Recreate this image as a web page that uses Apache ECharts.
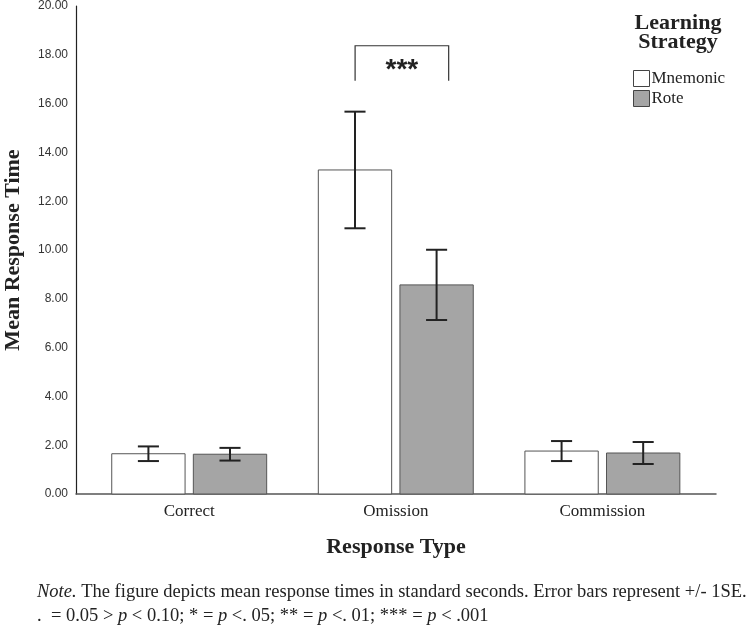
<!DOCTYPE html>
<html>
<head>
<meta charset="utf-8">
<script src="https://cdn.jsdelivr.net/npm/echarts@6/dist/echarts.min.js"></script>
<style>html,body{margin:0;padding:0;background:#fff}#c{width:750px;height:628px}</style>
</head>
<body>
<div id="c"></div>
<script>
const categories = ['Correct', 'Omission', 'Commission'];
const mnemonic = [1.65, 13.28, 1.76];
const mnemonicSE = [0.30, 2.39, 0.41];
const rote = [1.63, 8.57, 1.68];
const roteSE = [0.26, 1.44, 0.45];
const yTicks = [0, 2, 4, 6, 8, 10, 12, 14, 16, 18, 20];
const bracketX = [0.803, 1.256];
const bracketY = [16.94, 18.37];
const sigLabel = '***';
const sigY = 17.5;

const serif = 'Liberation Serif, Times New Roman, serif';
const sans = 'Liberation Sans, Arial, sans-serif';

function barRender(sign, fill) {
  return function (params, api) {
    const i = api.value(0), v = api.value(1), se = api.value(2);
    const unit = api.size([1, 0])[0];
    const cx = api.coord([i, 0])[0] + sign * 0.1975 * unit;
    const bw = 0.355 * unit;
    const base = api.coord([i, 0])[1];
    const top = api.coord([i, v])[1];
    const eTop = api.coord([i, v + se])[1];
    const eBot = api.coord([i, v - se])[1];
    const cap = 0.051 * unit;
    const es = { stroke: '#222', lineWidth: 2 };
    return {
      type: 'group',
      children: [
        { type: 'rect', shape: { x: cx - bw / 2, y: top, width: bw, height: base - top },
          style: { fill: fill, stroke: '#555', lineWidth: 1 } },
        { type: 'line', shape: { x1: cx, y1: eTop, x2: cx, y2: eBot }, style: es },
        { type: 'line', shape: { x1: cx - cap, y1: eTop, x2: cx + cap, y2: eTop }, style: es },
        { type: 'line', shape: { x1: cx - cap, y1: eBot, x2: cx + cap, y2: eBot }, style: es }
      ]
    };
  };
}

const chart = echarts.init(document.getElementById('c'), null, { renderer: 'canvas' });
chart.setOption({
  animation: false,
  backgroundColor: '#fff',
  grid: { left: 76, top: 6, width: 640, height: 488, outerBoundsMode: 'none', containLabel: false },
  title: [
    { text: 'Learning\nStrategy', left: 678, top: 14, textAlign: 'center', padding: 0,
      textStyle: { fontFamily: serif, fontWeight: 'bold', fontSize: 22, lineHeight: 19, color: '#222' } },
    { text: '{i|Note.} The figure depicts mean response times in standard seconds. Error bars represent +/- 1SE.\n.  = 0.05 > {i|p} < 0.10; * = {i|p} <. 05; ** = {i|p} <. 01; *** = {i|p} < .001',
      left: 37, top: 580, padding: 0,
      textStyle: { fontFamily: serif, fontWeight: 'normal', fontSize: 18.5, lineHeight: 24, color: '#222',
        rich: { i: { fontFamily: serif, fontStyle: 'italic', fontSize: 18.5, color: '#222' } } } }
  ],
  legend: {
    orient: 'vertical', left: 633, top: 70, padding: 0, itemWidth: 16, itemHeight: 16, itemGap: 3,
    icon: 'rect',
    textStyle: { fontFamily: serif, fontSize: 17, color: '#222', padding: [0, 0, 0, -3] },
    data: [
      { name: 'Mnemonic', itemStyle: { color: '#fff', borderColor: '#444', borderWidth: 1 } },
      { name: 'Rote', itemStyle: { color: '#a5a5a5', borderColor: '#444', borderWidth: 1 } }
    ]
  },
  xAxis: {
    type: 'value', min: -0.548, max: 2.550,
    name: 'Response Type', nameLocation: 'middle', nameGap: 42,
    nameTextStyle: { fontFamily: serif, fontWeight: 'bold', fontSize: 22, color: '#222' },
    axisLine: { show: true, onZero: false, lineStyle: { color: '#555', width: 1.5 } },
    axisTick: { show: false },
    splitLine: { show: false },
    axisLabel: { customValues: [0, 1, 2], formatter: v => categories[Math.round(v)] || '',
      fontFamily: serif, fontSize: 17, color: '#222', margin: 9 }
  },
  yAxis: {
    type: 'value', min: 0, max: 20, interval: 2,
    name: 'Mean Response Time', nameLocation: 'middle', nameGap: 52,
    nameTextStyle: { fontFamily: serif, fontWeight: 'bold', fontSize: 22, color: '#222', padding: [0, 0, 0, 0] },
    axisLine: { show: true, onZero: false, lineStyle: { color: '#222', width: 1.2 } },
    axisTick: { show: false },
    splitLine: { show: false },
    axisLabel: { formatter: v => yTicks.includes(v) ? v.toFixed(2) : '', fontFamily: sans, fontSize: 12, color: '#333', margin: 8 }
  },
  series: [
    { name: 'Mnemonic', type: 'custom', renderItem: barRender(-1, '#ffffff'),
      itemStyle: { color: '#fff', borderColor: '#444', borderWidth: 1 },
      encode: { x: 0, y: [1] },
      data: categories.map((c, i) => [i, mnemonic[i], mnemonicSE[i]]) },
    { name: 'Rote', type: 'custom', renderItem: barRender(1, '#a5a5a5'),
      itemStyle: { color: '#a5a5a5', borderColor: '#444', borderWidth: 1 },
      encode: { x: 0, y: [1] },
      data: categories.map((c, i) => [i, rote[i], roteSE[i]]) },
    { name: 'sig', type: 'custom',
      renderItem: function (params, api) {
        const a = api.coord([bracketX[0], bracketY[0]]);
        const b = api.coord([bracketX[0], bracketY[1]]);
        const c = api.coord([bracketX[1], bracketY[1]]);
        const d = api.coord([bracketX[1], bracketY[0]]);
        const t = api.coord([(bracketX[0] + bracketX[1]) / 2, sigY]);
        return { type: 'group', children: [
          { type: 'polyline', shape: { points: [a, b, c, d] }, style: { stroke: '#333', lineWidth: 1.2, fill: null } },
          { type: 'text', x: t[0], y: t[1] + 3, style: { text: sigLabel, fontFamily: sans, fontWeight: 'bold', fontSize: 28, fill: '#222', align: 'center', verticalAlign: 'middle' } }
        ] };
      },
      data: [[bracketX[0], bracketY[1]]] }
  ]
});
</script>
</body>
</html>
